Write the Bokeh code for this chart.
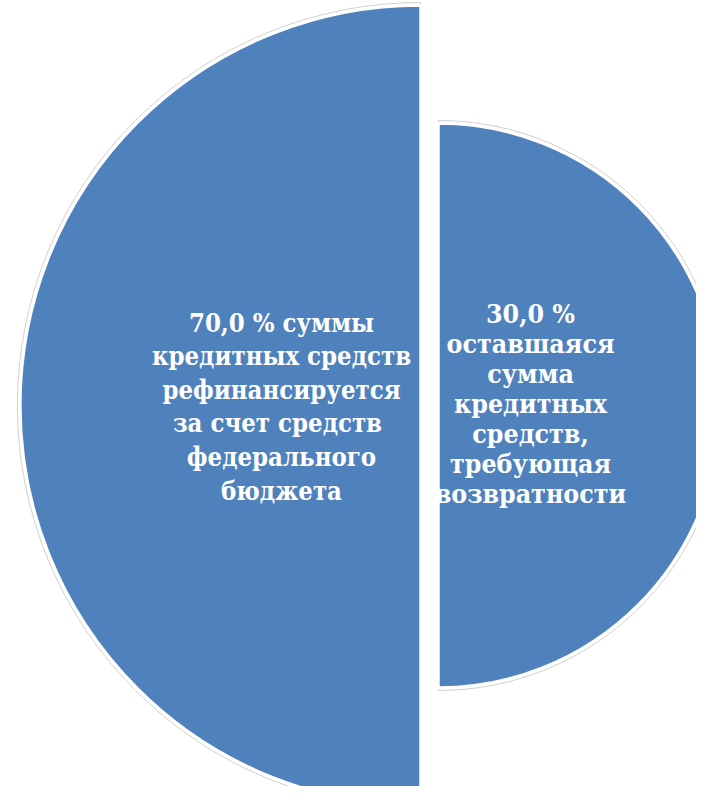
from bokeh.plotting import figure
from bokeh.models import Range1d, ColumnDataSource
from bokeh.core.properties import value
from bokeh.embed import file_html
from bokeh.resources import INLINE
import math

# data
shares = [70.0, 30.0]
desc_left = ["суммы", "кредитных средств", "рефинансируется",
             "за счет  средств", "федерального", "бюджета"]
desc_right = ["оставшаяся", "сумма", "кредитных", "средств,",
              "требующая", "возвратности"]


def fmt(v):
    return ("%.1f" % v).replace(".", ",") + " %"


lines_left = [fmt(shares[0]) + " " + desc_left[0]] + desc_left[1:]
lines_right = [fmt(shares[1])] + desc_right

W, H = 696, 786
BLUE = "#4F81BD"

p = figure(width=W, height=H, output_backend="svg", toolbar_location=None,
           x_range=Range1d(0, W), y_range=Range1d(0, H), min_border=0)
p.axis.visible = False
p.grid.visible = False
p.outline_line_color = None
p.background_fill_color = "white"

# style: wedge geometry (each share drawn as a half disc)
centers = [(420, H - 405), (438, H - 405)]
radii = [400, 282]
spans = [(math.pi / 2, 3 * math.pi / 2), (-math.pi / 2, math.pi / 2)]

for (cx, cy), r, (a0, a1) in zip(centers, radii, spans):
    p.wedge(x=[cx], y=[cy], radius=r + 3, start_angle=a0, end_angle=a1,
            fill_color="white", line_color="#d0d0d0", line_width=1)
    p.wedge(x=[cx], y=[cy], radius=r, start_angle=a0, end_angle=a1,
            fill_color=BLUE, line_color="white", line_width=2.5)


def add_block(lines, cx, cy, spacing, size):
    n = len(lines)
    ys = [cy + ((n - 1) / 2 - i) * spacing for i in range(n)]
    src = ColumnDataSource(dict(x=[cx] * n, y=ys, t=lines))
    p.text(x="x", y="y", text="t", source=src, text_align="center",
           text_baseline="middle", text_color="white",
           text_font=value("DejaVu Serif Condensed"), text_font_style="bold",
           text_font_size=size)


add_block(lines_left, 281, H - 406, 33.6, "25.5px")
add_block(lines_right, 530, H - 403, 30.0, "26.5px")

open("out.html", "w").write(file_html(p, INLINE))
